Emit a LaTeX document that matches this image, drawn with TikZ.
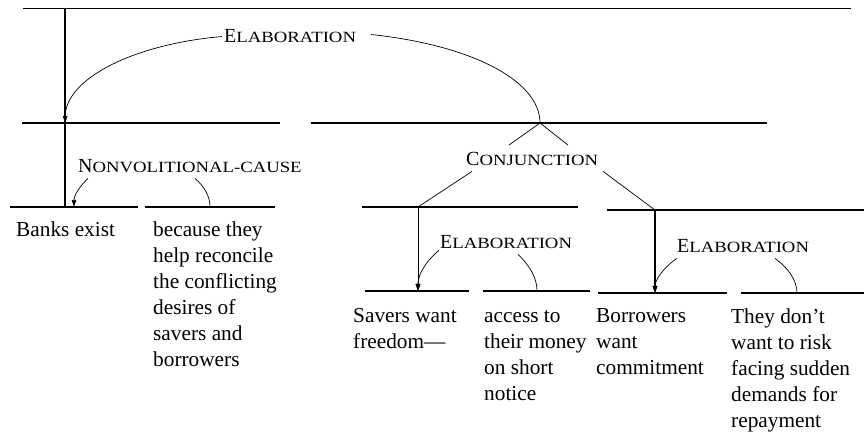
\documentclass[tikz,border=0pt]{standalone}
\usepackage{fontspec}
\setmainfont{Liberation Serif}
\usetikzlibrary{arrows.meta}
\newcommand{\fsc}[2]{{\fontsize{20}{20}\selectfont #1}\scalebox{1.2}[1]{\fontsize{15.6}{15.6}\selectfont #2}}
\newcommand{\fst}{\rule{0pt}{15pt}}
\begin{document}
\begin{tikzpicture}[x=1pt,y=-1pt,
  span/.style={line width=1.1pt},
  spanthick/.style={line width=1.7pt},
  rel/.style={line width=0.7pt},
  arr/.style={-{Triangle[length=7pt,width=4.5pt]}},
  lab/.style={inner xsep=0pt, inner ysep=5pt, anchor=base west},
  seg/.style={font=\fontsize{21.3}{26}\selectfont, anchor=north west, inner sep=0pt, align=left}]
\useasboundingbox (0,0) rectangle (864,435);
% span endpoints
\coordinate (T1) at (23,8);  \coordinate (T2) at (851,8);
\coordinate (R) at (65,8);   \coordinate (RB) at (65,207);
\coordinate (A1) at (22,123); \coordinate (A2) at (280,123);
\coordinate (B1) at (311,123); \coordinate (B2) at (767,123);
\coordinate (AN) at (65,123); \coordinate (BT) at (540,123);
\coordinate (C1) at (10,207);  \coordinate (C2) at (138,207);
\coordinate (D1) at (145,207); \coordinate (D2) at (275,207);
\coordinate (E1) at (362,207); \coordinate (E2) at (578,207);
\coordinate (F1) at (607,210); \coordinate (F2) at (864,210);
\coordinate (CN) at (74,207);  \coordinate (DS) at (210,207);
\coordinate (ET) at (418,207); \coordinate (FT) at (655,210);
\coordinate (G1) at (365,291); \coordinate (G2) at (469,291);
\coordinate (H1) at (483,291); \coordinate (H2) at (590,291);
\coordinate (I1) at (598,293); \coordinate (I2) at (727,293);
\coordinate (J1) at (741,293); \coordinate (J2) at (864,293);
\coordinate (GN) at (418,291); \coordinate (HS) at (537,291);
\coordinate (IN) at (655,293); \coordinate (JS) at (797,293);
% span lines
\draw[line width=0.9pt] (T1) -- (T2);
\draw[span] (A1) -- (A2);
\draw[span] (B1) -- (B2);
\draw[span] (C1) -- (C2);
\draw[span] (D1) -- (D2);
\draw[span] (E1) -- (E2);
\draw[spanthick] (F1) -- (F2);
\draw[span] (G1) -- (G2);
\draw[span] (H1) -- (H2);
\draw[spanthick] (I1) -- (I2);
\draw[spanthick] (J1) -- (J2);
% nucleus verticals
\draw[spanthick] (R) -- (RB);
\draw[line width=1pt,arr] (ET) -- (GN);
\draw[spanthick,arr] (FT) -- (IN);
% relation labels
\node[lab] (elabA) at (224,43) {\fsc{E}{LABORATION}};
\node[lab] (nvc) at (78,173) {\fsc{N}{ONVOLITIONAL-CAUSE}};
\node[lab] (conj) at (466,166) {\fsc{C}{ONJUNCTION}};
\node[lab] (elabB) at (440,249) {\fsc{E}{LABORATION}};
\node[lab] (elabC) at (677,253) {\fsc{E}{LABORATION}};
% relation curves
\draw[rel,arr] ([xshift=-2pt]elabA.west) .. controls (135,44) and (66,78) .. (AN);
\draw[rel] ([xshift=15pt,yshift=2pt]elabA.east) .. controls (470,45) and (540,80) .. (BT);
\draw[rel,arr] ([xshift=10pt]nvc.south west) .. controls (80,186) and (74,195) .. (CN);
\draw[rel] ([xshift=117pt]nvc.south west) .. controls (205,187) and (210,197) .. (DS);
\draw[rel] (BT) -- ([xshift=43pt,yshift=2.5pt]conj.north west);
\draw[rel] (BT) -- ([xshift=102pt,yshift=2.5pt]conj.north west);
\draw[rel] ([xshift=6pt]conj.south west) -- (ET);
\draw[rel] ([xshift=137pt]conj.south west) -- (FT);
\draw[rel,arr] ([xshift=-1pt,yshift=4pt]elabB.south west) .. controls (425,262) and (418,275) .. (GN);
\draw[rel] ([xshift=78pt]elabB.south west) .. controls (530,266) and (537,278) .. (HS);
\draw[rel,arr] (elabC.south west) .. controls (663,268) and (655,280) .. (IN);
\draw[rel] ([xshift=98pt]elabC.south west) .. controls (788,268) and (797,280) .. (JS);
% segments
\node[seg] (s1) at (16,221) {\fst Banks exist};
\node[seg] (s2) at (153,221) {\fst because they\\help reconcile\\the conflicting\\desires of\\savers and\\borrowers};
\node[seg] (s3) at (353,307) {\fst Savers want\\freedom—};
\node[seg] (s4) at (484,307) {\fst access to\\their money\\on short\\notice};
\node[seg] (s5) at (596,307) {\fst Borrowers\\want\\commitment};
\node[seg] (s6) at (731,308) {\fst They don’t\\want to risk\\facing sudden\\demands for\\repayment};
\end{tikzpicture}
\end{document}
